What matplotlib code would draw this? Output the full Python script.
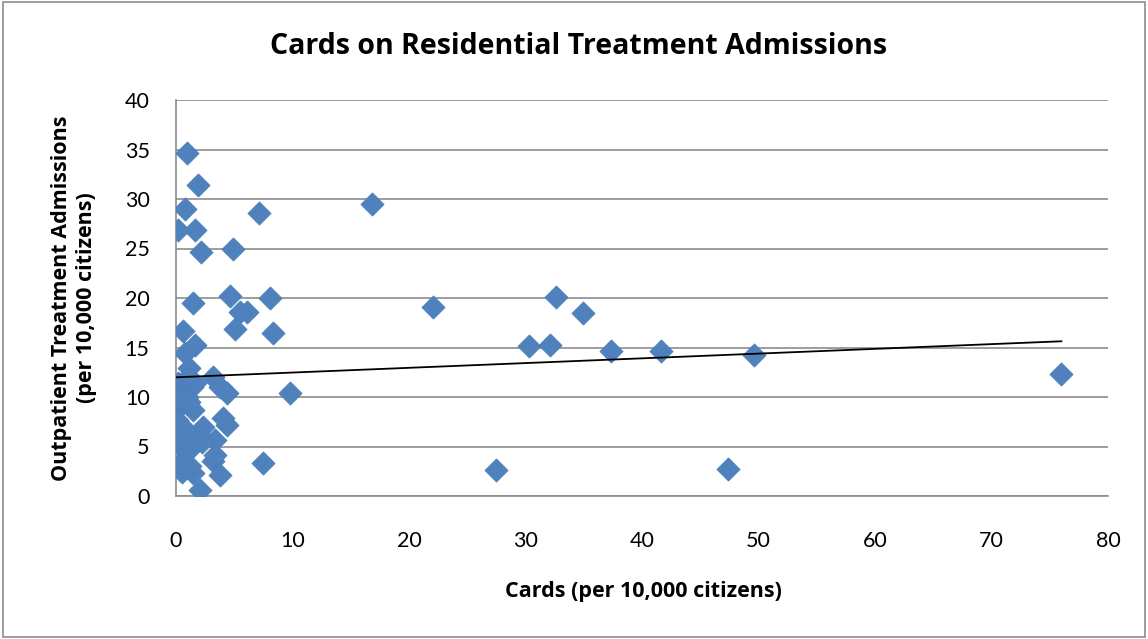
import matplotlib
matplotlib.use("Agg")
import matplotlib.pyplot as plt
import numpy as np

cards = [16.8, 22.1, 27.5, 30.3, 32.1, 32.6, 34.9, 37.3, 41.6, 47.4, 49.6, 76.0,
         9.8, 8.35, 8.07, 7.5, 7.15, 6.07, 5.5, 5.06, 4.92, 4.6, 4.35, 4.35, 4.06,
         3.78, 3.2, 3.35, 3.2, 3.78, 3.35, 2.35, 2.15, 1.92, 1.63, 1.49, 1.63,
         0.92, 0.77, 0.2, 0.63, 0.77, 1.14, 0.2, 0.77, 1.35, 0.06, 0.92, 0.2, 1.49,
         0.1, 0.63, 0.63, 1.49, 2.06, 0.63, 0.49, 1.49, 2.06,
         0.3, 0.5, 1.0, 1.2, 0.8, 1.6, 0.4, 1.1, 2.2, 1.6, 1.0]
outpatient = [29.5, 19.1, 2.6, 15.2, 15.3, 20.1, 18.5, 14.6, 14.6, 2.7, 14.2, 12.3,
              10.4, 16.5, 20.0, 3.3, 28.55, 18.6, 18.6, 16.9, 24.9, 20.2, 10.4, 7.2, 7.85,
              11.0, 12.05, 5.66, 3.5, 2.1, 4.1, 7.0, 24.6, 31.4, 26.9, 19.5, 15.25,
              34.6, 28.96, 26.9, 16.7, 14.4, 12.9, 11.4, 11.0, 11.0, 10.0, 10.0, 8.85, 8.7,
              7.7, 7.0, 6.0, 5.3, 6.2, 3.6, 2.45, 2.3, 0.6,
              9.9, 5.0, 4.5, 3.0, 2.8, 5.8, 6.5, 9.5, 5.5, 11.4, 12.0]

x_ticks = [0, 10, 20, 30, 40, 50, 60, 70, 80]
y_ticks = [0, 5, 10, 15, 20, 25, 30, 35, 40]

plt.rcParams['font.family'] = ['Lato', 'DejaVu Sans']
bold_font = ['Open Sans', 'DejaVu Sans']

W, H = 1148, 639
fig = plt.figure(figsize=(W / 100, H / 100), dpi=100)
ax = fig.add_axes([176/W, 1 - 496/H, (1108-176)/W, (496-100)/H])

ax.set_xlim(0, 80)
ax.set_ylim(0, 40)
ax.set_xticks(x_ticks)
ax.set_yticks(y_ticks)
ax.yaxis.grid(True, color='#8c8c8c', linewidth=1.2)
ax.set_axisbelow(True)
for s in ['top', 'right']:
    ax.spines[s].set_visible(False)
for s in ['left', 'bottom']:
    ax.spines[s].set_color('#8c8c8c')
    ax.spines[s].set_linewidth(1.2)
ax.tick_params(axis='both', length=0, labelsize=15.5)
ax.tick_params(axis='x', pad=25)
ax.tick_params(axis='y', pad=19)

ax.scatter(cards, outpatient, marker='D', s=140, color='#4F81BD', edgecolors='#4A7EBB', linewidths=0.5, zorder=3)

xa = np.array(cards); ya = np.array(outpatient)
m, b = np.polyfit(xa, ya, 1)
xl = np.array([xa.min(), xa.max()])
ax.plot(xl, m * xl + b, color='black', linewidth=1.3, zorder=4)

fig.text(579/W, 1 - 47/H, 'Cards on Residential Treatment Admissions', fontsize=20.5,
         fontweight='bold', family=bold_font, ha='center', va='center')
fig.text(643/W, 1 - 591/H, 'Cards (per 10,000 citizens)', fontsize=15.5,
         fontweight='bold', family=bold_font, ha='center', va='center')
fig.text(74/W, 1 - 298/H, 'Outpatient Treatment Admissions\n(per 10,000 citizens)', fontsize=15.5,
         fontweight='bold', family=bold_font, ha='center', va='center', rotation=90, linespacing=1.2)

fig.patches.append(plt.Rectangle((0.003, 0.003), 0.994, 0.994, transform=fig.transFigure,
                                 fill=False, edgecolor='#8c8c8c', linewidth=1.2))

fig.savefig('out.png', dpi=100)
